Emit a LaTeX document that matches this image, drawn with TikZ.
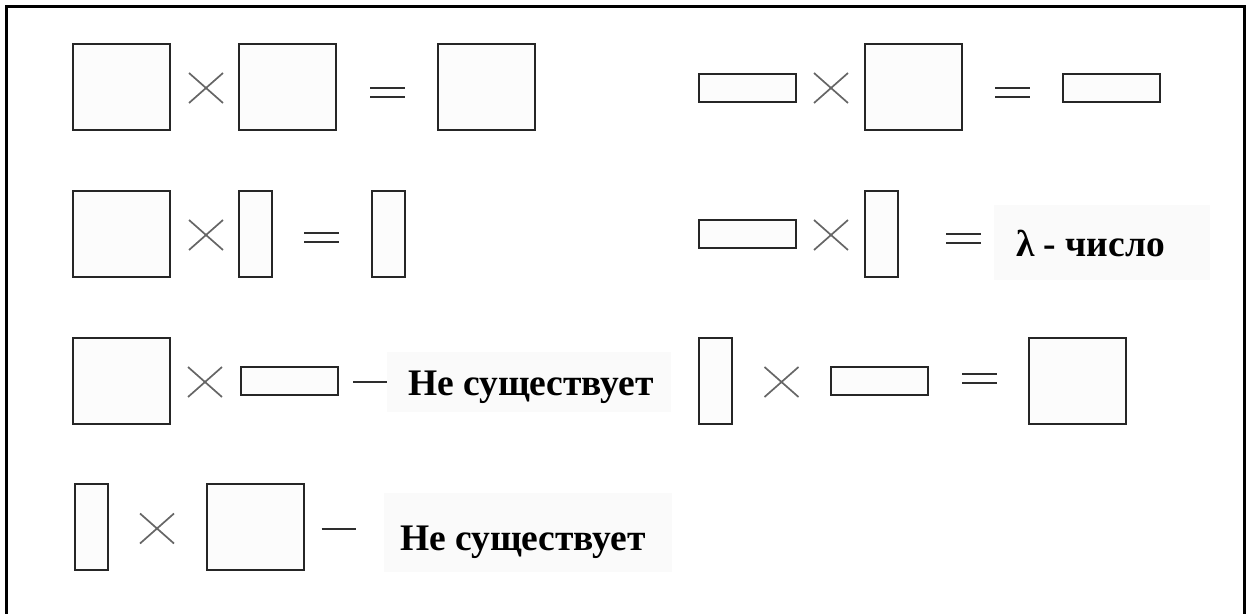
\documentclass[tikz,border=0pt]{standalone}
\usepackage{fontspec}
\setmainfont{Liberation Serif}
\usetikzlibrary{shapes.misc}
\begin{document}
\begin{tikzpicture}[x=1bp,y=-1bp,
  blk/.style={draw=black!85, line width=2.6bp, fill=black!1, inner sep=0bp, outer sep=0bp},
  sqbox/.style={blk, minimum width=97bp, minimum height=86bp},
  widebox/.style={blk, minimum width=97bp, minimum height=28bp},
  tallbox/.style={blk, minimum width=33bp, minimum height=86bp},
  timesmark/.style={cross out, draw=black!60, line width=1.7bp, minimum width=34bp, minimum height=30bp, inner sep=0bp, outer sep=0bp},
  eqmark/.style={minimum width=35bp, minimum height=9bp, inner sep=0bp, outer sep=0bp},
  eqline/.style={draw=black!82, line width=2.4bp},
  dashmark/.style={minimum width=34bp, minimum height=0bp, inner sep=0bp, outer sep=0bp},
  lbl/.style={font=\fontsize{37.5bp}{42bp}\selectfont\bfseries, inner sep=0bp, outer sep=0bp, anchor=base west},
  patch/.style={fill=black!2}
]
\useasboundingbox (0,0) rectangle (1247,614);

% outer frame, open at the bottom
\draw[line width=3bp, line join=miter] (6.5,614) -- (6.5,6.5) -- (1244.5,6.5) -- (1244.5,614);

% faint backgrounds behind the captions
\fill[patch] (994,205) rectangle (1210,280);
\fill[patch] (387,352) rectangle (671,412);
\fill[patch] (384,493) rectangle (672,572);

\newcommand{\eqsign}[3]{%
  \node[eqmark] (#1) at (#2,#3) {};
  \draw[eqline] (#1.north west) -- (#1.north east) (#1.south west) -- (#1.south east);}
\newcommand{\dashsign}[3]{%
  \node[dashmark] (#1) at (#2,#3) {};
  \draw[draw=black!82, line width=2.2bp] (#1.west) -- (#1.east);}

% row 1, left: square x square = square
\node[sqbox] (a1) at (121.5,87) {};
\node[timesmark] (ax1) at (206,88) {};
\node[sqbox] (a2) at (287.5,87) {};
\eqsign{ae}{387.5}{92.5}
\node[sqbox] (a3) at (486.5,87) {};

% row 1, right: row x square = row
\node[widebox] (b1) at (747.5,88) {};
\node[timesmark] (bx1) at (831,88) {};
\node[sqbox] (b2) at (913.5,87) {};
\eqsign{be}{1012.5}{92.5}
\node[widebox] (b3) at (1111.5,88) {};

% row 2, left: square x column = column
\node[sqbox] (c1) at (121.5,234) {};
\node[timesmark] (cx1) at (206,235) {};
\node[tallbox] (c2) at (255.5,234) {};
\eqsign{ce}{321.5}{237.5}
\node[tallbox] (c3) at (388.5,234) {};

% row 2, right: row x column = number
\node[widebox] (d1) at (747.5,234) {};
\node[timesmark] (dx1) at (831,235) {};
\node[tallbox] (d2) at (881.5,234) {};
\eqsign{de}{963.5}{238.5}
\node[lbl] (dt) at (1016,257) {λ - число};

% row 3, left: square x row does not exist
\node[sqbox] (e1) at (121.5,381) {};
\node[timesmark] (ex1) at (205,382) {};
\node[widebox] (e2) at (289.5,381) {};
\dashsign{ed}{370}{382}
\node[lbl] (et) at (408,395) {Не существует};

% row 3, right: column x row = square
\node[tallbox] (f1) at (715.5,381) {};
\node[timesmark] (fx1) at (781.5,382) {};
\node[widebox] (f2) at (879.5,381) {};
\eqsign{fe}{979.5}{378.5}
\node[sqbox] (f3) at (1077.5,381) {};

% row 4: column x square does not exist
\node[tallbox] (g1) at (91.5,527) {};
\node[timesmark] (gx1) at (157,528.5) {};
\node[sqbox] (g2) at (255.5,527) {};
\dashsign{gd}{338.5}{529}
\node[lbl] (gt) at (400,550) {Не существует};
\end{tikzpicture}
\end{document}
